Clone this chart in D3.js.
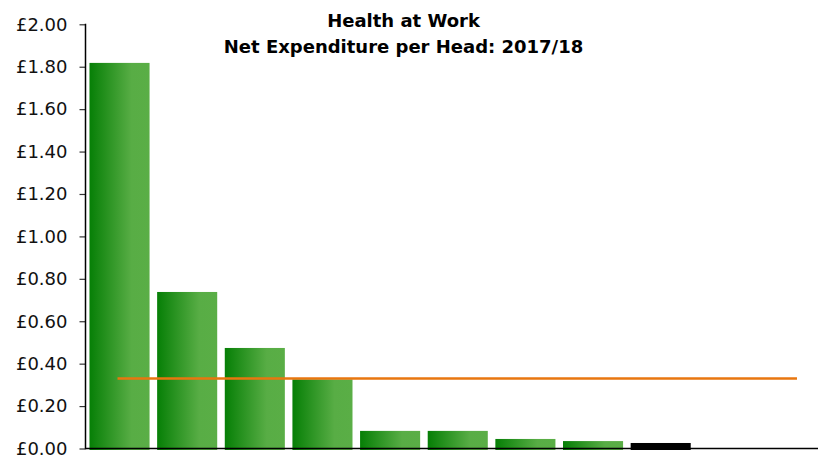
<!DOCTYPE html>
<html>
<head>
<meta charset="utf-8">
<script src="https://cdn.jsdelivr.net/npm/d3@7"></script>
<style>
html,body{margin:0;padding:0;background:#fff;}
svg{display:block;}
</style>
</head>
<body>
<svg id="chart" width="818" height="459"></svg>
<script>
const titleLines = ["Health at Work", "Net Expenditure per Head: 2017/18"];
const categories = ["1","2","3","4","5","6","7","8","9","10","11"];
const values = [1.818, 0.738, 0.474, 0.326, 0.083, 0.083, 0.045, 0.035, 0.026, null, null];
const highlight = [false,false,false,false,false,false,false,false,true,false,false];
const averageValue = 0.33;
const yTicks = [0,0.2,0.4,0.6,0.8,1.0,1.2,1.4,1.6,1.8,2.0];

(function(){
const svg = d3.select("#chart");
const W = 818, H = 459;
const mLeft = 85.5, mRight = 830, mTop = 24.3, mBottom = 448.5;

const x = d3.scaleBand().domain(categories).range([mLeft, mRight]).paddingInner(0.112).paddingOuter(0.059);
const y = d3.scaleLinear().domain([0, 2]).range([mBottom, mTop]);

const defs = svg.append("defs");
const grad = defs.append("linearGradient").attr("id","g").attr("x1","0%").attr("x2","100%").attr("y1","0%").attr("y2","0%");
grad.append("stop").attr("offset","0%").attr("stop-color","#067f06");
grad.append("stop").attr("offset","70%").attr("stop-color","#58ad45");
grad.append("stop").attr("offset","100%").attr("stop-color","#5aae46");

svg.append("g").selectAll("rect")
  .data(categories.map((c,i)=>({c, v: values[i], h: highlight[i]})).filter(d=>d.v!=null))
  .join("rect")
  .attr("x", d=>x(d.c))
  .attr("width", x.bandwidth())
  .attr("y", d=>y(d.v))
  .attr("height", d=>y(0)-y(d.v)+1.5)
  .attr("fill", d=>d.h ? "#000" : "url(#g)");

const yAxis = d3.axisLeft(y).tickValues(yTicks).tickFormat(d=>"£"+d.toFixed(2)).tickSize(6).tickPadding(12);
const ya = svg.append("g").attr("transform",`translate(${mLeft},0)`).call(yAxis);
ya.select(".domain").remove();
ya.selectAll(".tick line").attr("stroke","#333").attr("stroke-width",1.2);
ya.selectAll(".tick text").attr("font-family","DejaVu Sans, Verdana, sans-serif").attr("font-size","18px").attr("fill","#111");
svg.append("line").attr("x1",mLeft).attr("x2",mLeft).attr("y1",mTop - 0.5).attr("y2",mBottom+0.8).attr("stroke","#000").attr("stroke-width",1.5);

svg.append("line").attr("x1",mLeft).attr("x2",W).attr("y1",mBottom).attr("y2",mBottom).attr("stroke","#000").attr("stroke-width",1.5);

const first = categories[0], last = categories[categories.length-1];
svg.append("line")
  .attr("x1", x(first)+x.bandwidth()/2 - 2)
  .attr("x2", x(last)+x.bandwidth()/2 + 1)
  .attr("y1", y(averageValue)).attr("y2", y(averageValue))
  .attr("stroke","#e8760f").attr("stroke-width",2.5);

const t = svg.append("text").attr("text-anchor","middle")
  .attr("font-family","DejaVu Sans, Verdana, sans-serif").attr("font-weight","bold").attr("font-size","18px").attr("fill","#000");
t.append("tspan").attr("x",403.5).attr("y",26.5).text(titleLines[0]);
t.append("tspan").attr("x",403.5).attr("y",53).text(titleLines[1]);
})();
</script>
</body>
</html>
